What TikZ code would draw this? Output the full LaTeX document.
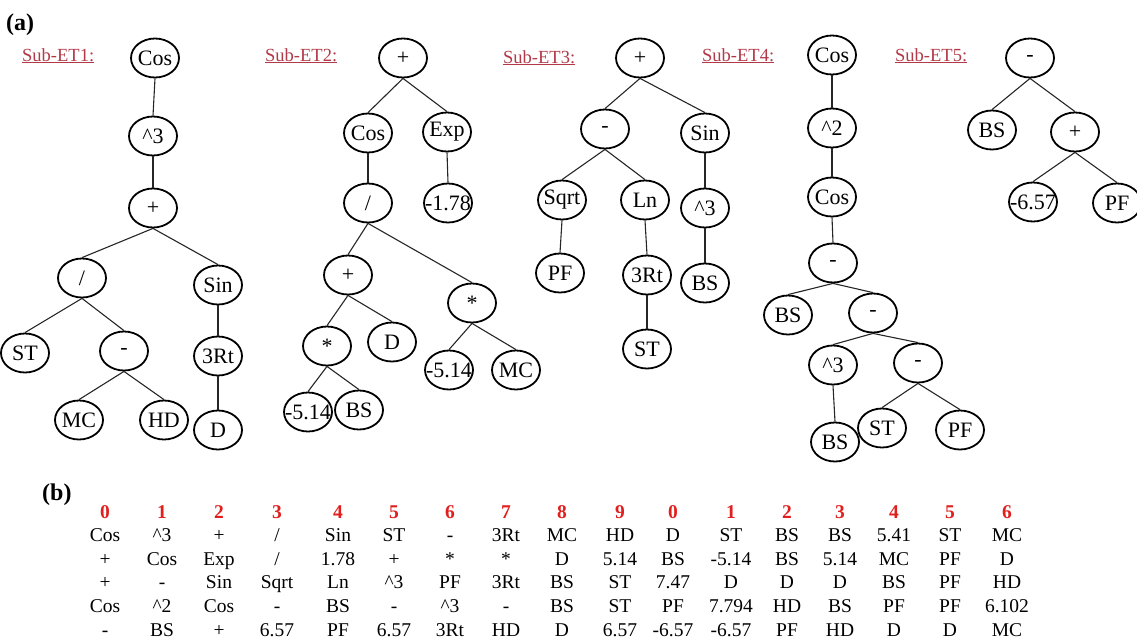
\documentclass[tikz,border=0pt]{standalone}
\usepackage{fontspec}
\setmainfont{Liberation Serif}
\usetikzlibrary{shapes.geometric}
\definecolor{labred}{HTML}{B23A48}
\definecolor{numred}{HTML}{E0201E}
\newcommand\ct{\textasciicircum}
% tree node: empty ellipse with its text laid on top as a centred label
\newcommand\tn[3]{\node[el,label={center:#3}] (#1) at (#2) {};}
% tree edge from parent's bottom to child's top
\newcommand\te[2]{\draw[ed] (#1.south) -- (#2.north);}
\begin{document}
\begin{tikzpicture}[x=1pt,y=-1pt,
  el/.style={ellipse, draw, line width=1.8pt, minimum width=48pt, minimum height=39pt, inner sep=0pt},
  every label/.style={font=\fontsize{22}{26}\selectfont, inner sep=0pt},
  ed/.style={line width=1.1pt, draw=black!85},
  sub/.style={font=\fontsize{18.5}{22}\selectfont, text=labred, inner sep=0pt, anchor=base west},
  tag/.style={font=\fontsize{24}{28}\selectfont\bfseries, inner sep=0pt, anchor=base west},
  cell/.style={font=\fontsize{19.5}{23}\selectfont, inner sep=0pt, anchor=base},
  hd/.style={font=\fontsize{19.5}{23}\selectfont\bfseries, text=numred, inner sep=0pt, anchor=base}]
\useasboundingbox (0,0) rectangle (1137,643);

\node[tag] (taga) at (6,30) {(a)};
\node[tag] (tagb) at (42,500) {(b)};

\node[sub] (s1) at (22,61) {\underline{Sub-ET1:}};
\node[sub] (s2) at (265,61) {\underline{Sub-ET2:}};
\node[sub] (s3) at (503,63) {\underline{Sub-ET3:}};
\node[sub] (s4) at (702,61) {\underline{Sub-ET4:}};
\node[sub] (s5) at (895,61) {\underline{Sub-ET5:}};

% Sub-ET1
\tn{a1}{155,58}{Cos}
\tn{a2}{153,136}{\ct3}
\tn{a3}{153,208}{+}
\tn{a4}{82,278}{/}
\tn{a5}{218,285}{Sin}
\tn{a6}{25,353}{ST}
\tn{a7}{124,351}{-}
\tn{a8}{218,356}{3Rt}
\tn{a9}{79,420}{MC}
\tn{a10}{164,420}{HD}
\tn{a11}{218,430}{D}
\te{a1}{a2} \te{a2}{a3} \te{a3}{a4} \te{a3}{a5}
\te{a4}{a6} \te{a4}{a7} \te{a7}{a9} \te{a7}{a10}
\te{a5}{a8} \te{a8}{a11}

% Sub-ET2
\tn{b1}{403,58}{+}
\tn{b2}{368,133}{Cos}
\tn{b3}{447,132}{Exp}
\tn{b4}{368,203}{/}
\tn{b5}{448,203}{-1.78}
\tn{b6}{348,275}{+}
\tn{b7}{472,303}{*}
\tn{b8}{327,346}{*}
\tn{b9}{392,342}{D}
\tn{b10}{449,370}{-5.14}
\tn{b11}{516,370}{MC}
\tn{b12}{308,412}{-5.14}
\tn{b13}{359,410}{BS}
\te{b1}{b2} \te{b1}{b3} \te{b2}{b4} \te{b3}{b5}
\te{b4}{b6} \te{b4}{b7} \te{b6}{b8} \te{b6}{b9}
\te{b7}{b10} \te{b7}{b11} \te{b8}{b12} \te{b8}{b13}

% Sub-ET3
\tn{c1}{640,58}{+}
\tn{c2}{605,129}{-}
\tn{c3}{705,133}{Sin}
\tn{c4}{562,200}{Sqrt}
\tn{c5}{645,200}{Ln}
\tn{c6}{705,208}{\ct3}
\tn{c7}{560,273}{PF}
\tn{c8}{647,275}{3Rt}
\tn{c9}{705,283}{BS}
\tn{c10}{647,349}{ST}
\te{c1}{c2} \te{c1}{c3} \te{c2}{c4} \te{c2}{c5}
\te{c3}{c6} \te{c4}{c7} \te{c5}{c8} \te{c6}{c9} \te{c8}{c10}

% Sub-ET4
\tn{d1}{832,55}{Cos}
\tn{d2}{832,128}{\ct2}
\tn{d3}{832,197}{Cos}
\tn{d4}{833,263}{-}
\tn{d5}{788,315}{BS}
\tn{d6}{873,313}{-}
\tn{d7}{833,365}{\ct3}
\tn{d8}{918,363}{-}
\tn{d9}{835,442}{BS}
\tn{d10}{882,428}{ST}
\tn{d11}{960,430}{PF}
\te{d1}{d2} \te{d2}{d3} \te{d3}{d4} \te{d4}{d5} \te{d4}{d6}
\te{d6}{d7} \te{d6}{d8} \te{d7}{d9} \te{d8}{d10} \te{d8}{d11}

% Sub-ET5
\tn{e1}{1030,58}{-}
\tn{e2}{992,130}{BS}
\tn{e3}{1075,132}{+}
\tn{e4}{1033,202}{-6.57}
\tn{e5}{1117,203}{PF}
\te{e1}{e2} \te{e1}{e3} \te{e3}{e4} \te{e3}{e5}

% gene table
\def\colx{{105,162,219,277,338,394,450,506,562,620,673,731,787,840,894,950,1007}}
\foreach \t [count=\i from 0] in {0,1,2,3,4,5,6,7,8,9,0,1,2,3,4,5,6}
  {\pgfmathsetmacro\cx{\colx[\i]}\node[hd] (h\i) at (\cx,518) {\t};}
\foreach \t [count=\i from 0] in {Cos,\ct3,+,/,Sin,ST,-,3Rt,MC,HD,D,ST,BS,BS,5.41,ST,MC}
  {\pgfmathsetmacro\cx{\colx[\i]}\node[cell] (ra\i) at (\cx,541.6) {\t};}
\foreach \t [count=\i from 0] in {+,Cos,Exp,/,1.78,+,*,*,D,5.14,BS,-5.14,BS,5.14,MC,PF,D}
  {\pgfmathsetmacro\cx{\colx[\i]}\node[cell] (rb\i) at (\cx,565.2) {\t};}
\foreach \t [count=\i from 0] in {+,-,Sin,Sqrt,Ln,\ct3,PF,3Rt,BS,ST,7.47,D,D,D,BS,PF,HD}
  {\pgfmathsetmacro\cx{\colx[\i]}\node[cell] (rc\i) at (\cx,588.8) {\t};}
\foreach \t [count=\i from 0] in {Cos,\ct2,Cos,-,BS,-,\ct3,-,BS,ST,PF,7.794,HD,BS,PF,PF,6.102}
  {\pgfmathsetmacro\cx{\colx[\i]}\node[cell] (rd\i) at (\cx,612.4) {\t};}
\foreach \t [count=\i from 0] in {-,BS,+,6.57,PF,6.57,3Rt,HD,D,6.57,-6.57,-6.57,PF,HD,D,D,MC}
  {\pgfmathsetmacro\cx{\colx[\i]}\node[cell] (re\i) at (\cx,636) {\t};}
\end{tikzpicture}
\end{document}
